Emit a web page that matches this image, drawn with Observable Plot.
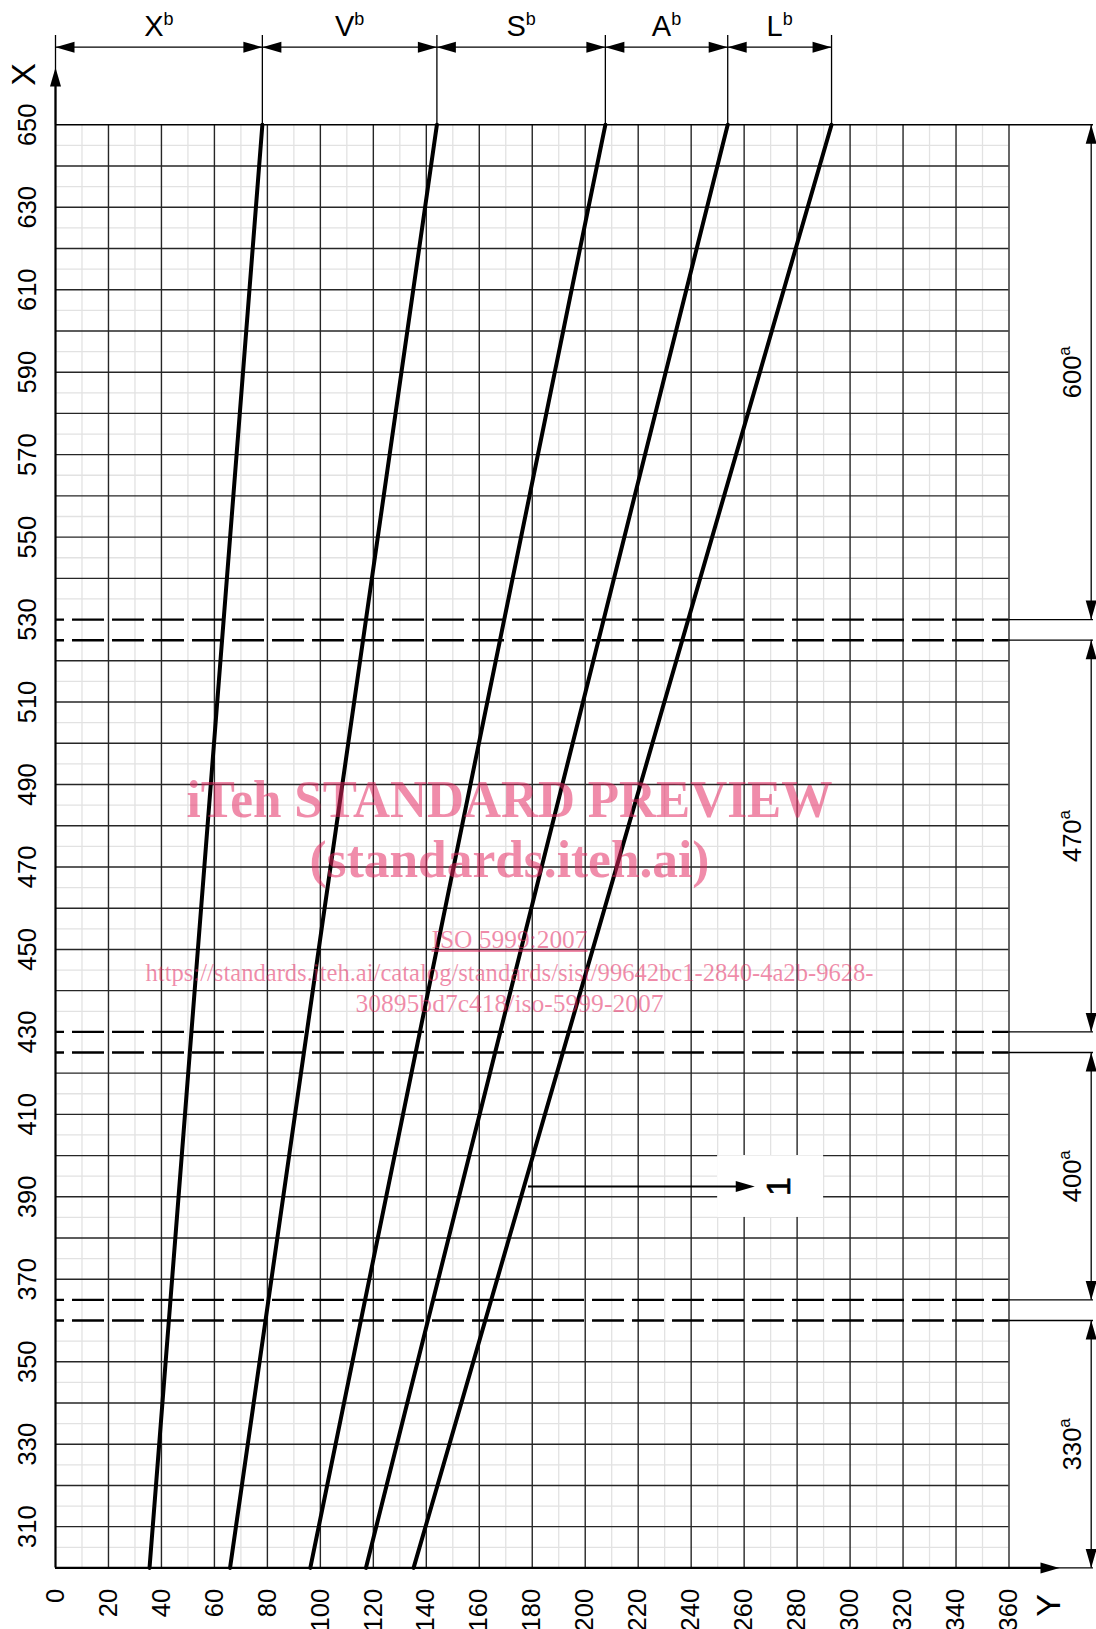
<!DOCTYPE html>
<html><head><meta charset="utf-8">
<script src="https://cdn.jsdelivr.net/npm/d3@7"></script>
<script src="https://cdn.jsdelivr.net/npm/@observablehq/plot@0.6"></script>
<style>html,body{margin:0;padding:0;background:#fff}</style>
</head><body><div id="chart"></div>
<script>
// ---------------- data ----------------
const seriesNames = ["X", "V", "S", "A", "L"];
const seriesNote = "b";
const seriesX = [300, 650];                       // X at the two ends of each line
const seriesYAt300 = [35.5, 65.9, 96.2, 117.2, 135.2];
const seriesYAt650 = [78.1, 144.0, 207.6, 253.8, 293.0];
const yTicks = d3.range(0, 361, 20);              // horizontal axis "Y"
const xTicks = d3.range(310, 651, 20);            // vertical axis "X"
const classBreaks = [530, 525, 430, 425, 365, 360];
const classRanges = [[650, 530], [525, 430], [425, 365], [360, 300]];
const classLabels = ["600", "470", "400", "330"];
const classNote = "a";
const calloutLabel = "1";
const calloutX = 392.5;      // X level of the callout arrow
const calloutSeries = "L";
const calloutTipY = 264;     // Y where arrow ends
const calloutBox = {Y1: 250, Y2: 290, X1: 385, X2: 400};
const watermarkBig = ["iTeh STANDARD PREVIEW", "(standards.iteh.ai)"];
const watermarkSmall = ["ISO 5999:2007",
  "https://standards.iteh.ai/catalog/standards/sist/99642bc1-2840-4a2b-9628-",
  "30895bd7c418/iso-5999-2007"];

// ---------------- layout ----------------
const W = 1096, H = 1629;
const L = 55, R = 1008.5, T = 124.3, B = 1567.4;
const xs = d3.scaleLinear([0, 360], [L, R]);
const ys = d3.scaleLinear([300, 650], [B, T]);
const xPx = (p) => xs.invert(p), yPx = (p) => ys.invert(p);
const FONT = "'Liberation Sans', Arial, Helvetica, sans-serif";
const SERIF = "'Liberation Serif', 'Times New Roman', serif";

const lines = seriesNames.flatMap((s, i) => [
  {s, X: seriesX[0], Y: seriesYAt300[i]},
  {s, X: seriesX[1], Y: seriesYAt650[i]}
]);
const si = seriesNames.indexOf(calloutSeries);
const calloutLineY = seriesYAt300[si] + (calloutX - seriesX[0]) / (seriesX[1] - seriesX[0]) * (seriesYAt650[si] - seriesYAt300[si]);
const calloutStartY = calloutLineY + 1.5;

const AL = 19, AW = 11;
function arrowSym(dx, dy) {
  return {draw(ctx) {
    const bx = -dx * AL, by = -dy * AL, px = -dy * AW / 2, py = dx * AW / 2;
    ctx.moveTo(0, 0); ctx.lineTo(bx + px, by + py); ctx.lineTo(bx - px, by - py); ctx.closePath();
  }};
}
const aUp = arrowSym(0, -1), aDown = arrowSym(0, 1), aLeft = arrowSym(-1, 0), aRight = arrowSym(1, 0);

const topEdges = [0, ...seriesYAt650];
const topSegs = seriesNames.map((s, i) => ({s, a: topEdges[i], b: topEdges[i + 1]}));
const dimTopY = yPx(46.7), extTopY = yPx(35), labelTopY = yPx(35.5);
const dimRightX = xPx(1090.7), extRightX = xPx(1093), labelRightX = xPx(1072);

const grey = "#e2e2e2", dark = "#262626";

const plot = Plot.plot({
  width: W, height: H,
  x: {domain: [0, 360], range: [L, R], axis: null},
  y: {domain: [300, 650], range: [B, T], axis: null},
  style: {fontFamily: FONT, background: "#fff", overflow: "visible", color: "#000"},
  marks: [
    // minor grid
    Plot.ruleX(d3.range(10, 360, 20), {y1: 300, y2: 650, stroke: grey, strokeWidth: 1.3}),
    Plot.ruleY(d3.range(305, 650, 10).filter(v => !classBreaks.includes(v)), {x1: 0, x2: 360, stroke: grey, strokeWidth: 1.3}),
    // major grid
    Plot.ruleX(d3.range(20, 361, 20), {y1: 300, y2: 650, stroke: dark, strokeWidth: 1.4}),
    Plot.ruleY(d3.range(310, 641, 10).filter(v => !classBreaks.includes(v)), {x1: 0, x2: 360, stroke: dark, strokeWidth: 1.4}),
    Plot.ruleY([650], {x1: 0, x2: extRightX, stroke: "#000", strokeWidth: 1.6}),
    // right extension lines
    Plot.ruleY([...classBreaks, 300], {x1: 360, x2: extRightX, stroke: "#000", strokeWidth: 1.3}),
    // dashed class boundaries
    Plot.ruleY(classBreaks, {x1: 0, x2: 360, stroke: "#000", strokeWidth: 2.4, strokeDasharray: "32,8", strokeDashoffset: 23}),
    // series lines
    Plot.line(lines, {x: "Y", y: "X", z: "s", stroke: "#000", strokeWidth: 4}),
    // axes
    Plot.ruleX([0], {y1: 300, y2: yPx(84), stroke: "#000", strokeWidth: 2.2}),
    Plot.dot([0], {x: 0, y: yPx(67), symbol: aUp, r: 5, fill: "#000", stroke: "none"}),
    Plot.ruleY([300], {x1: 0, x2: xPx(1044), stroke: "#000", strokeWidth: 2.2}),
    Plot.dot([0], {x: xPx(1059), y: 300, symbol: aRight, r: 5, fill: "#000", stroke: "none"}),
    // tick labels
    Plot.text(xTicks, {x: 0, y: d => d, text: d => String(d), rotate: -90, dx: -28, fontSize: 25.5, fill: "#000"}),
    Plot.text(yTicks, {x: d => d, y: 300, text: d => String(d), rotate: -90, textAnchor: "end", dy: 21, fontSize: 25.5, fill: "#000"}),
    // axis titles
    Plot.text(["X"], {x: xPx(24), y: yPx(74), text: d => d, rotate: -90, fontSize: 34, fill: "#000"}),
    Plot.text(["Y"], {x: xPx(1049), y: yPx(1605), text: d => d, rotate: -90, fontSize: 34, fill: "#000"}),
    // top dimension
    Plot.ruleX(topEdges, {y1: 650, y2: extTopY, stroke: "#000", strokeWidth: 1.3}),
    Plot.ruleY([dimTopY], {x1: 0, x2: topEdges[topEdges.length - 1], stroke: "#000", strokeWidth: 1.3}),
    Plot.dot(topSegs, {x: "a", y: dimTopY, symbol: aLeft, r: 5, fill: "#000", stroke: "none"}),
    Plot.dot(topSegs, {x: "b", y: dimTopY, symbol: aRight, r: 5, fill: "#000", stroke: "none"}),
    Plot.text(topSegs, {x: d => (d.a + d.b) / 2, y: labelTopY, text: "s", lineAnchor: "bottom", fontSize: 29, fill: "#000", ariaDescription: "dim-top"}),
    // right dimension
    Plot.ruleX(classRanges, {x: dimRightX, y1: d => d[0], y2: d => d[1], stroke: "#000", strokeWidth: 1.3}),
    Plot.dot(classRanges, {x: dimRightX, y: d => d[0], symbol: aUp, r: 5, fill: "#000", stroke: "none"}),
    Plot.dot(classRanges, {x: dimRightX, y: d => d[1], symbol: aDown, r: 5, fill: "#000", stroke: "none"}),
    Plot.text(classRanges, {x: labelRightX, y: d => (d[0] + d[1]) / 2, text: (d, i) => classLabels[i], rotate: -90, fontSize: 25.5, fill: "#000", ariaDescription: "dim-right"}),
    // callout
    Plot.rect([calloutBox], {x1: "Y1", x2: "Y2", y1: "X1", y2: "X2", fill: "#fff"}),
    Plot.link([0], {x1: calloutStartY, x2: calloutTipY - 5, y1: calloutX, y2: calloutX, stroke: "#000", strokeWidth: 2.2}),
    Plot.dot([0], {x: calloutTipY, y: calloutX, symbol: aRight, r: 5, fill: "#000", stroke: "none"}),
    Plot.text([calloutLabel], {x: xPx(779), y: calloutX, text: d => d, rotate: -90, fontSize: 34, fill: "#000", stroke: "#000", strokeWidth: 0.6}),
    // watermark
    Plot.text(watermarkBig, {x: xPx(509), y: (d, i) => yPx([816, 876][i]), text: d => d, lineAnchor: "bottom",
      fontFamily: SERIF, fontWeight: "bold", fontSize: 52, fill: "#e2265e", fillOpacity: 0.53, ariaDescription: "wm-big"}),
    Plot.text(watermarkSmall, {x: xPx(509), y: (d, i) => yPx([947, 980, 1011][i]), text: d => d, lineAnchor: "bottom",
      fontFamily: SERIF, fontSize: 25, fill: "#e2265e", fillOpacity: 0.53, ariaDescription: "wm-small"})
  ]
});

const svg = d3.select(plot);
function groupTexts(desc, values) {
  let sel = svg.selectAll(`g[aria-description="${desc}"] text`);
  if (sel.empty()) sel = svg.selectAll("text").filter(function() { return values.includes(this.textContent); });
  return sel;
}
groupTexts("dim-top", seriesNames).filter(function() { return !this.getAttribute("transform") || !/rotate/.test(this.getAttribute("transform")); })
  .append("tspan").attr("dy", -11).attr("font-size", 18).text(seriesNote);
groupTexts("dim-right", classLabels).append("tspan").attr("dy", -11).attr("font-size", 17).text(classNote);
const bigW = [646, 400], smallW = [156, 728, 308];
groupTexts("wm-big", watermarkBig).each(function(d, i) {
  d3.select(this).attr("textLength", bigW[i]).attr("lengthAdjust", "spacingAndGlyphs");
});
groupTexts("wm-small", watermarkSmall).each(function(d, i) {
  d3.select(this).attr("textLength", smallW[i]).attr("lengthAdjust", "spacingAndGlyphs");
  if (i === 0) d3.select(this).attr("text-decoration", "underline");
});
document.getElementById("chart").appendChild(plot);
</script>
</body></html>
